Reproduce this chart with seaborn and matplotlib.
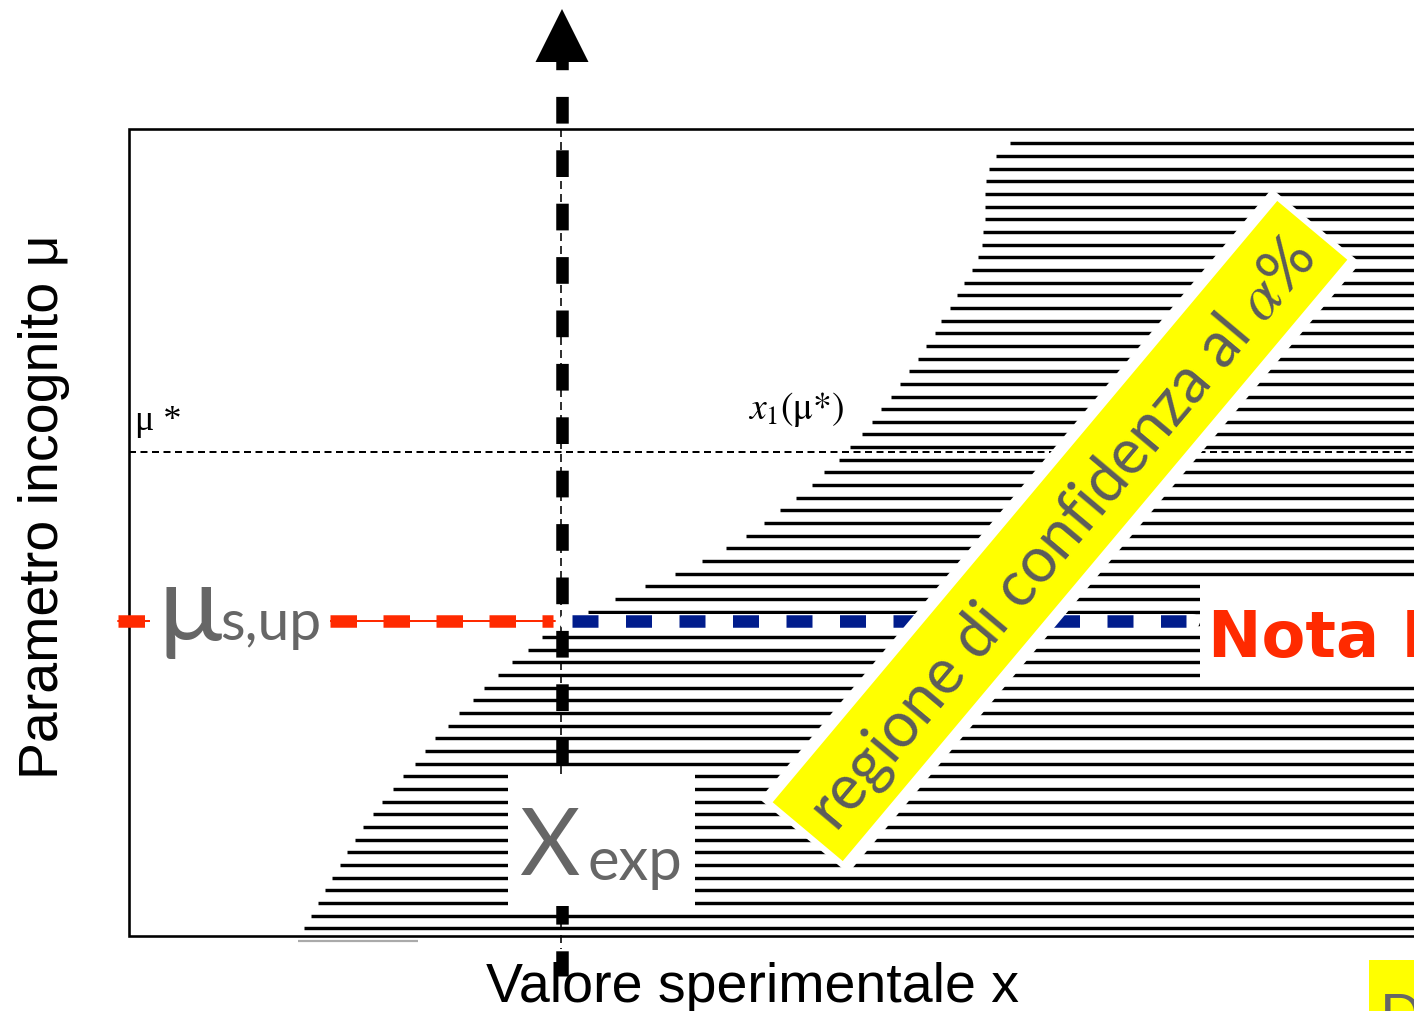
import numpy as np
import matplotlib
matplotlib.use("Agg")
import matplotlib.pyplot as plt
import seaborn as sns
from matplotlib.patches import Rectangle, Polygon

# ---------------- data (diagram units: slide pixel grid, y grows downward) ----------------
mu_star = 453            # value of mu*
mu_up = 622              # value of mu_s,up
x_exp = 562              # measured x_exp
frame_left, frame_top, frame_bottom = 129, 130, 937
hatch_first_y = 144.3
hatch_step = 12.66
# left end (x_1(mu)) of every horizontal line of the confidence belt, top to bottom
hatch_left = [1010, 996, 989, 986, 985, 985, 985, 983, 982, 978,
              972, 964, 957, 950, 941, 935, 926, 918, 909, 900,
              891, 881, 872, 862, 850, 839, 824, 812, 796, 780,
              764, 746, 726, 702, 675, 645, 615, 588, 563, 542,
              528, 512, 498, 484, 473, 459, 448, 435, 425, 415,
              403, 393, 382, 373, 363, 355, 347, 340, 332, 325,
              318, 311, 304]

xlabel = "Valore sperimentale x"
ylabel = "Parametro incognito μ"
band_label = r"regione di confidenza al $\alpha$%"
note_label = "Nota Bene"

# ---------------- style ----------------
sns.set_theme(style="white")
plt.rcParams["font.family"] = ["Liberation Sans", "DejaVu Sans"]
plt.rcParams["mathtext.fontset"] = "stix"
plt.rcParams["lines.scale_dashes"] = False

W, H = 1414, 1012
fig = plt.figure(figsize=(W / 100, H / 100), dpi=100)
ax = fig.add_axes([0, 0, 1, 1])
ax.set_xlim(0, W)
ax.set_ylim(H, 0)
ax.axis("off")
fig.patch.set_facecolor("white")

px = 0.72  # points per pixel at 100 dpi
GRAY = "#666666"
RED = "#ff2a00"
BLUE = "#001c8c"
YELLOW = "#ffff00"

# confidence belt (horizontal lines)
hy = hatch_first_y + hatch_step * np.arange(len(hatch_left))
ax.hlines(hy, hatch_left, W + 20, colors="#000000", lw=3.4 * px, zorder=1)
ax.hlines(942, 298, 418, colors="#aaaaaa", lw=2.2 * px, zorder=1)

# frame
ax.plot([W + 20, frame_left, frame_left, W + 20],
        [frame_top, frame_top, frame_bottom, frame_bottom],
        color="black", lw=2.6 * px, zorder=2, solid_joinstyle="miter")

# mu* dashed line
ax.plot([frame_left, W + 20], [mu_star, mu_star], color="black", lw=2 * px,
        ls=(0, (7 * px, 4.5 * px)), zorder=2)
# thin dashed vertical line of the original plot
ax.plot([x_exp - 1, x_exp - 1], [frame_top, 950], color="black", lw=1.6 * px,
        ls=(0, (8 * px, 5 * px)), zorder=2)

# red line (mu_s,up to the left)
ax.plot([118, 555], [mu_up, mu_up], color=RED, lw=2 * px, zorder=3)
ax.plot([118, 553], [mu_up, mu_up], color=RED, lw=12.5 * px,
        ls=(0, (26.5 * px, 26.5 * px)), zorder=3)
# blue line (to the right)
ax.plot([566, 1192], [mu_up, mu_up], color="white", lw=15 * px, zorder=2.5)
ax.plot([572, 1186], [mu_up, mu_up], color=BLUE, lw=12.5 * px,
        ls=(0, (26 * px, 27.5 * px)), zorder=3)

# thick dashed vertical line with arrow
ax.plot([x_exp, x_exp], [43.7, 977], color="black", lw=12.5 * px,
        ls=(0, (26.7 * px, 26.7 * px)), zorder=3.5)
ax.add_patch(Polygon([(x_exp, 10), (x_exp - 26.5, 63), (x_exp + 26.5, 63)],
                     closed=True, fc="black", ec="none", zorder=3.6))

# white label boxes
ax.add_patch(Rectangle((1200, 581), 240, 102, fc="white", ec="none", zorder=3))
ax.add_patch(Rectangle((150, 572), 180, 95, fc="white", ec="none", zorder=4))
ax.add_patch(Rectangle((508, 775), 187, 132, fc="white", ec="none", zorder=5))

# yellow rotated band
c = np.array([1060.0, 532.0])
ang = np.deg2rad(50)
u = np.array([np.cos(ang), -np.sin(ang)])
n = np.array([np.sin(ang), np.cos(ang)])


def band(L, Wd):
    return [c + u * L / 2 - n * Wd / 2, c + u * L / 2 + n * Wd / 2,
            c - u * L / 2 + n * Wd / 2, c - u * L / 2 - n * Wd / 2]


ax.add_patch(Polygon(band(785 + 12, 91.5 + 24), closed=True, fc="white", ec="none", zorder=4.5))
ax.add_patch(Polygon(band(785, 91.5), closed=True, fc=YELLOW, ec="none", zorder=4.6))
ax.text(c[0] + 3, c[1] + 3, band_label, rotation=50, rotation_mode="anchor",
        ha="center", va="center", fontsize=45, family="Lato", color="#5c5c5c", zorder=4.7)

# bottom right yellow box
ax.add_patch(Rectangle((1369, 961), 80, 80, fc=YELLOW, ec="none", zorder=4))
ax.text(1380, 1034, "D", fontsize=40, family="Lato", color=GRAY, va="baseline", zorder=4.1)

# texts
ax.text(44, 507, ylabel, rotation=90, ha="center", va="center", fontsize=40, color="black")
ax.text(753, 1002, xlabel, ha="center", va="baseline", fontsize=40, color="black")
ax.text(135, 430, "μ *", family="Liberation Serif", fontsize=26, va="baseline", color="black")
ax.text(748, 419, r"$x_1(\mathrm{\mu}{*})$", fontsize=27, va="baseline", color="black")

ax.text(156, 640, "µ", family="Lato", fontsize=76, color=GRAY, va="baseline", zorder=4.2)
ax.text(220, 640, "s,up", family="Lato", fontsize=41, color=GRAY, va="baseline", zorder=4.2)

ax.text(519, 875, "X", family="Lato", fontsize=67, color=GRAY, va="baseline", zorder=5.1)
ax.text(587, 880, "exp", family="Lato", fontsize=43, color=GRAY, va="baseline", zorder=5.1)

ax.text(1208, 657, note_label, family="DejaVu Sans", fontweight="bold", fontsize=46,
        color=RED, va="baseline", zorder=3.2)

fig.savefig("out.png", dpi=100)
